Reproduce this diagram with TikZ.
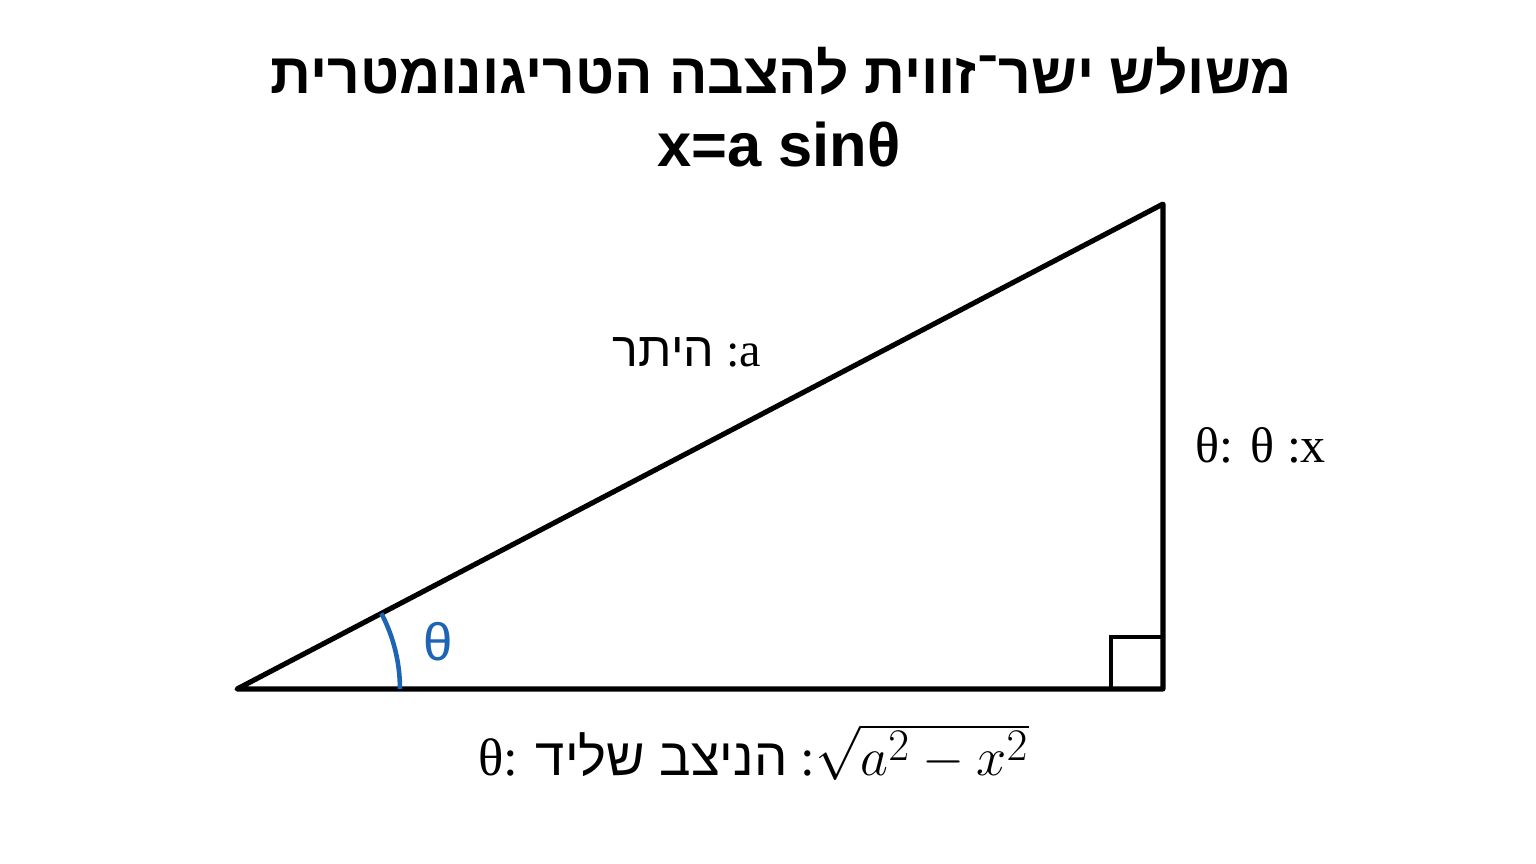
\documentclass[tikz,border=0pt]{standalone}
\usepackage{fontspec}
\usepackage{amsmath}
\usepackage{graphicx}
\setmainfont{Liberation Serif}
\newfontfamily\hebsans[Script=Hebrew]{Liberation Sans}
\newfontfamily\titlefont[Script=Hebrew]{Liberation Sans}
\TeXXeTstate=1
\usetikzlibrary{positioning}
\definecolor{anglecol}{RGB}{30,100,180}
\tikzset{
	side/.style={line width=2.9pt, line join=round, line cap=round},
	corner/.style={line width=2.6pt},
	headline/.style={font=\titlefont\bfseries\fontsize{32.4}{36}\selectfont, inner sep=0pt},
	sidelabel/.style={font=\fontsize{27.5}{30}\selectfont, inner sep=0pt}
}
\begin{document}
\begin{tikzpicture}[x=0.02cm, y=-0.02cm]
\useasboundingbox (0,0) rectangle (1536,864);
% corners of the triangle
\coordinate (A) at (237,689);
\coordinate (B) at (1163,689);
\coordinate (C) at (1163,204);
\draw[side] (A) -- (B) -- (C) -- cycle;
\draw[corner] ([xshift=-1.04cm]B) |- ([yshift=1.04cm]B);
% angle
\draw[anglecol, line width=2.6pt] ([xshift=3.26cm]A) arc[start angle=0, end angle=-27.65, radius=163];
\node[text=anglecol, font=\hebsans\fontsize{30}{32}\selectfont, inner sep=0pt] (theta) at (438,642) {θ};
% title
\node[headline] (title) at (781,71) {\beginR משולש ישר־זווית להצבה הטריגונומטרית\endR};
\node[headline, font=\titlefont\bfseries\fontsize{35}{40}\selectfont] (formula) at (779,145) {x=a sinθ};
% labels
\node[sidelabel] (hyp) at (687,352) {{\hebsans\beginR היתר\endR} :a};
\node[sidelabel, font=\fontsize{28.5}{30}\selectfont] (opp) at (1261,445) {θ: θ :x};
\node[sidelabel, font=\fontsize{30}{34}\selectfont, anchor=base west] (adj) at (478,776) {θ: {\hebsans\beginR הניצב שליד\endR} :\scalebox{1.24}{$\sqrt{a^2-x^2}$}};
\end{tikzpicture}
\end{document}
